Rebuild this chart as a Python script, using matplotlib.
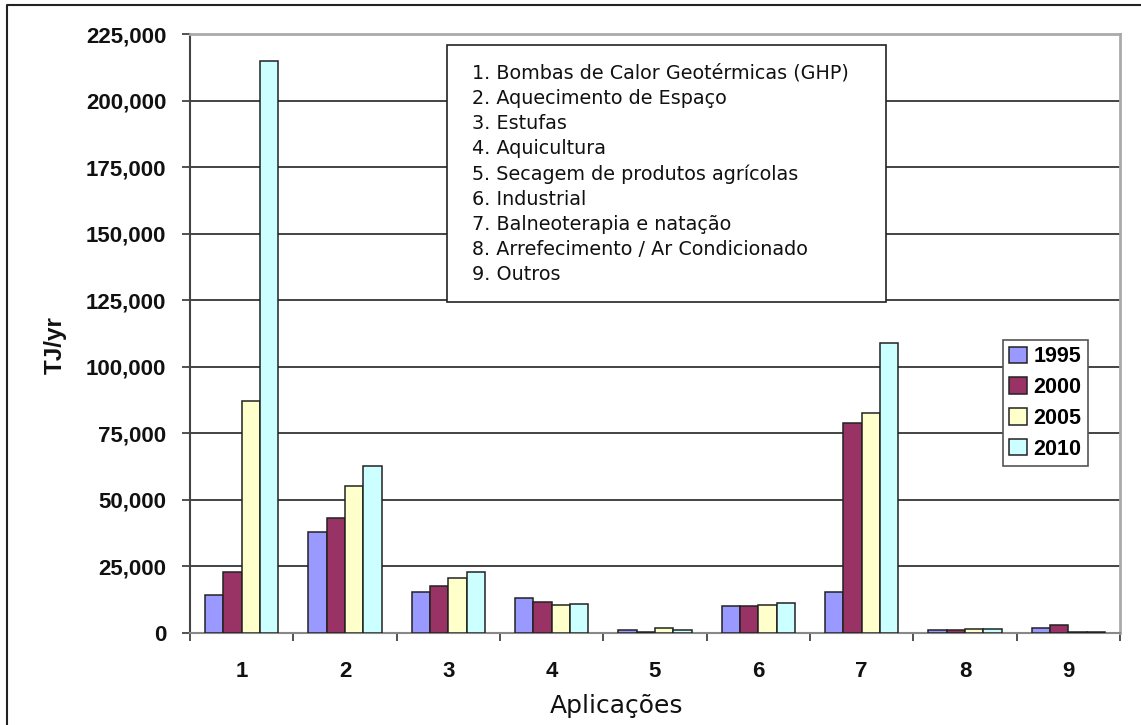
import matplotlib
matplotlib.use("Agg")
import matplotlib.pyplot as plt
import numpy as np
from matplotlib.patches import Rectangle
from matplotlib.lines import Line2D
from matplotlib.ticker import FuncFormatter

categories = ["1", "2", "3", "4", "5", "6", "7", "8", "9"]
years = ["1995", "2000", "2005", "2010"]
v1995 = [14300, 38000, 15500, 13000, 1300, 10000, 15500, 1100, 1700]
v2000 = [22900, 43100, 17500, 11500, 300, 10000, 78800, 1000, 3100]
v2005 = [87100, 55200, 20500, 10500, 1900, 10500, 82500, 1600, 300]
v2010 = [215000, 62700, 23000, 11000, 1300, 11300, 108800, 1600, 300]
applications = [
    "Bombas de Calor Geotérmicas (GHP)",
    "Aquecimento de Espaço",
    "Estufas",
    "Aquicultura",
    "Secagem de produtos agrícolas",
    "Industrial",
    "Balneoterapia e natação",
    "Arrefecimento / Ar Condicionado",
    "Outros",
]
colors = ["#9999FF", "#993366", "#FFFFCC", "#CCFFFF"]

W, H = 1141, 725
fig = plt.figure(figsize=(W / 100, H / 100), dpi=100)
fig.patch.set_facecolor("white")

L, R, T, B = 190, 1120, 34, 633
ax = fig.add_axes([L / W, 1 - B / H, (R - L) / W, (B - T) / H])

series = [v1995, v2000, v2005, v2010]
x = np.arange(1, len(categories) + 1)
bw = 0.177
for i, (vals, c, lab) in enumerate(zip(series, colors, years)):
    ax.bar(x + (i - 1.5) * bw, vals, width=bw, color=c, edgecolor="#222222",
           linewidth=1.1, label=lab, zorder=3)

ax.set_xlim(0.5, len(categories) + 0.5)
ax.set_ylim(0, 225000)
ax.set_yticks(np.arange(0, 225001, 25000))
ax.yaxis.set_major_formatter(FuncFormatter(lambda v, p: f"{int(v):,}"))
ax.grid(axis="y", color="#111111", linewidth=1.1, zorder=0)
ax.set_axisbelow(True)

ax.set_xticks(np.arange(0.5, len(categories) + 1, 1.0))
ax.set_xticklabels([])
ax.set_xticks(x, minor=True)
ax.set_xticklabels(categories, minor=True)
ax.tick_params(axis="x", which="major", length=6, width=1.2, color="#333333", direction="out")
ax.tick_params(axis="x", which="minor", length=0, pad=20)
ax.tick_params(axis="y", length=6, width=1.2, color="#333333", pad=11)
for lbl in ax.get_xticklabels(minor=True) + ax.get_yticklabels():
    lbl.set_fontfamily("Liberation Sans")
    lbl.set_fontweight("bold")
    lbl.set_fontsize(16)
    lbl.set_color("#111111")

for s in ["top", "right"]:
    ax.spines[s].set_color("#aaaaaa")
    ax.spines[s].set_linewidth(2)
ax.spines["left"].set_color("#444444")
ax.spines["left"].set_linewidth(1.5)
ax.spines["bottom"].set_color("#888888")
ax.spines["bottom"].set_linewidth(1.5)

# axis labels
fig.text(617 / W, 1 - 706 / H, "Aplicações", ha="center", va="center",
         fontsize=18, fontfamily="DejaVu Sans", color="#111111")
fig.text(55 / W, 1 - 345 / H, "TJ/yr", ha="center", va="center", rotation=90,
         fontsize=17.5, fontweight="bold", fontfamily="Liberation Sans", color="#111111")

# legend
leg = ax.legend(loc="upper left", bbox_to_anchor=((1003 - L) / (R - L), 1 - (340 - T) / (B - T)),
                frameon=True, fancybox=False, edgecolor="#555555", framealpha=1,
                prop={"family": "Liberation Sans", "weight": "bold", "size": 15.5},
                handlelength=0.8, handleheight=0.8, handletextpad=0.3,
                labelspacing=0.45, borderpad=0.3, borderaxespad=0)
leg.get_frame().set_linewidth(1.2)

# text box with application list
bx0, by0, bx1, by1 = 447, 45, 886, 302
fig.patches.append(Rectangle((bx0 / W, 1 - by1 / H), (bx1 - bx0) / W, (by1 - by0) / H,
                             transform=fig.transFigure, facecolor="white",
                             edgecolor="#222222", linewidth=1.2, zorder=5))
for k, name in enumerate(applications):
    fig.text(472 / W, 1 - (73 + 25.25 * k) / H, f"{k + 1}. {name}", ha="left", va="center",
             fontsize=13.8, fontfamily="DejaVu Sans", color="#111111", zorder=6)

# outer border (left and top)
fig.lines.append(Line2D([7 / W, 7 / W, 1.0], [0.0, 1 - 5 / H, 1 - 5 / H],
                        transform=fig.transFigure, color="#222222", linewidth=1.5))

fig.savefig("out.png", dpi=100)
